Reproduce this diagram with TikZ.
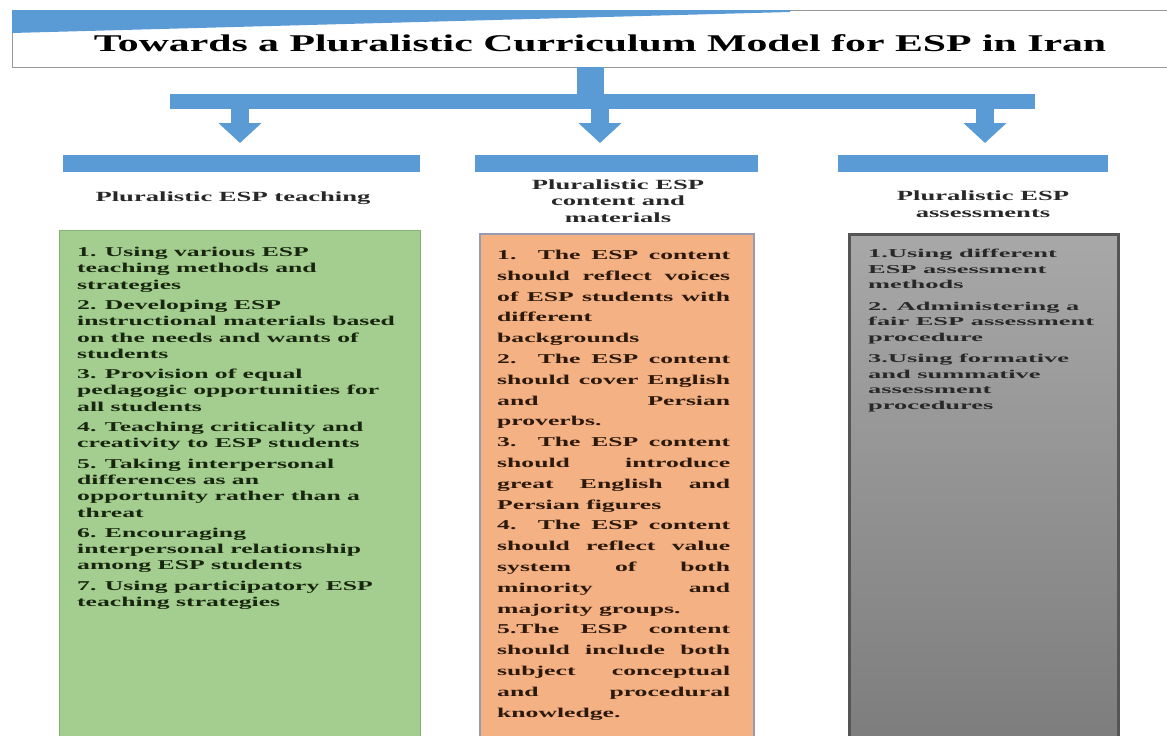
\documentclass[tikz,border=0pt]{standalone}
\usepackage{fontspec}
\setmainfont{Liberation Serif}
\newfontfamily\titlefont[FakeStretch=1.74]{Liberation Serif}
\newfontfamily\widefont[FakeStretch=1.9]{Liberation Serif}
\newfontfamily\widerfont[FakeStretch=2.2]{Liberation Serif}
\usetikzlibrary{arrows.meta,positioning}

\definecolor{espblue}{RGB}{91,155,213}
\definecolor{teachgreen}{RGB}{163,206,143}
\definecolor{teachedge}{RGB}{135,178,115}
\definecolor{contorange}{RGB}{244,177,131}
\definecolor{contedge}{RGB}{150,155,180}
\definecolor{assesstop}{RGB}{168,168,168}
\definecolor{assessbot}{RGB}{124,124,124}
\definecolor{assessedge}{RGB}{85,85,85}
\definecolor{inkgreen}{RGB}{25,38,15}
\definecolor{inkbrown}{RGB}{45,25,12}
\definecolor{inkgray}{RGB}{40,40,40}

% justified line of the content box
\newcommand{\jline}[1]{\makebox[233pt][s]{#1}}

\begin{document}
\begin{tikzpicture}[x=1pt, y=-1pt,
  esptitle/.style = {draw=gray!80, fill=white, minimum width=1176, minimum height=57, inner sep=0},
  esptitletxt/.style = {anchor=base, inner sep=0, font=\titlefont\bfseries\fontsize{24}{28}\selectfont},
  espflow/.style = {draw=espblue, line cap=butt},
  espdown/.style = {espflow, line width=18, -{Triangle[width=42pt,length=20pt]}},
  espbar/.style = {fill=espblue, minimum height=17, inner sep=0},
  esphead/.style = {align=center, inner sep=0, text=inkgray,
    font=\widefont\bfseries\fontsize{14}{16.5}\selectfont},
  espbox/.style = {anchor=north west, minimum height=520, inner sep=0},
  esptext/.style = {anchor=north west, align=left, inner sep=0}
]
  \useasboundingbox (0,0) rectangle (1167,736);
  \clip (0,0) rectangle (1167,736);

  % title
  \node[esptitle] (title) at (600,38.5) {};
  \fill[espblue] (12,10) -- (790,10) -- (790,12) -- (12,33) -- cycle;
  \node[esptitletxt] (titletxt) at (600,51) {Towards a Pluralistic Curriculum Model for ESP in Iran};

  % connectors
  \coordinate (hub) at (590,101);
  \coordinate (barL) at (170,101);
  \coordinate (barR) at (1035,101);
  \draw[espflow, line width=27] (title.south -| hub) -- (hub);
  \draw[espflow, line width=15] (barL) -- (barR);
  \foreach \n/\x in {1/240, 2/600, 3/985} {
    \coordinate (from\n) at (\x,101);
    \coordinate (to\n) at (\x,143);
    \draw[espdown] (from\n) -- (to\n);
  }

  % blue bars
  \node[espbar, minimum width=357] (bar1) at (241.5,163) {};
  \node[espbar, minimum width=283] (bar2) at (616.5,163.5) {};
  \node[espbar, minimum width=270] (bar3) at (973,163.5) {};

  % headings
  \node[esphead] (head1) at (233,198) {Pluralistic ESP teaching};
  \node[esphead] (head2) at (618,201) {Pluralistic ESP\\content and\\materials};
  \node[esphead] (head3) at (983,204) {Pluralistic ESP\\assessments};

  % teaching
  \node[espbox, fill=teachgreen, draw=teachedge, line width=1.2, minimum width=361] (teachbox) at (59,230) {};
  \node[esptext, text=inkgreen, below right=17pt and 18pt of teachbox.north west,
    font=\widefont\bfseries\fontsize{13.5}{16.3}\selectfont] (teachtxt) {%
    1. Using various ESP\\
    teaching methods and\\
    strategies\\[4pt]
    2. Developing ESP\\
    instructional materials based\\
    on the needs and wants of\\
    students\\[4pt]
    3. Provision of equal\\
    pedagogic opportunities for\\
    all students\\[4pt]
    4. Teaching criticality and\\
    creativity to ESP students\\[4pt]
    5. Taking interpersonal\\
    differences as an\\
    opportunity rather than a\\
    threat\\[4pt]
    6. Encouraging\\
    interpersonal relationship\\
    among ESP students\\[4pt]
    7. Using participatory ESP\\
    teaching strategies};

  % content and materials
  \node[espbox, fill=contorange, draw=contedge, line width=1.5, minimum width=274] (contbox) at (479,233) {};
  \node[esptext, text=inkbrown, below right=17pt and 18pt of contbox.north west,
    font=\widefont\bfseries\fontsize{13.5}{20.8}\selectfont] (conttxt) {%
    \jline{1. The ESP content}\\
    \jline{should reflect voices}\\
    \jline{of ESP students with}\\
    different\\
    backgrounds\\
    \jline{2. The ESP content}\\
    \jline{should cover English}\\
    \jline{and Persian}\\
    proverbs.\\
    \jline{3. The ESP content}\\
    \jline{should introduce}\\
    \jline{great English and}\\
    Persian figures\\
    \jline{4. The ESP content}\\
    \jline{should reflect value}\\
    \jline{system of both}\\
    \jline{minority and}\\
    majority groups.\\
    \jline{5.The ESP content}\\
    \jline{should include both}\\
    \jline{subject conceptual}\\
    \jline{and procedural}\\
    knowledge.};

  % assessments
  \node[espbox, top color=assesstop, bottom color=assessbot, draw=assessedge, line width=2.5,
    minimum width=269] (assessbox) at (848,233) {};
  \node[esptext, text=inkgray, below right=16pt and 20pt of assessbox.north west,
    font=\widerfont\bfseries\fontsize{12}{15.5}\selectfont] (assesstxt) {%
    1.Using different\\
    ESP assessment\\
    methods\\[6pt]
    2. Administering a\\
    fair ESP assessment\\
    procedure\\[6pt]
    3.Using formative\\
    and summative\\
    assessment\\
    procedures};
\end{tikzpicture}
\end{document}
